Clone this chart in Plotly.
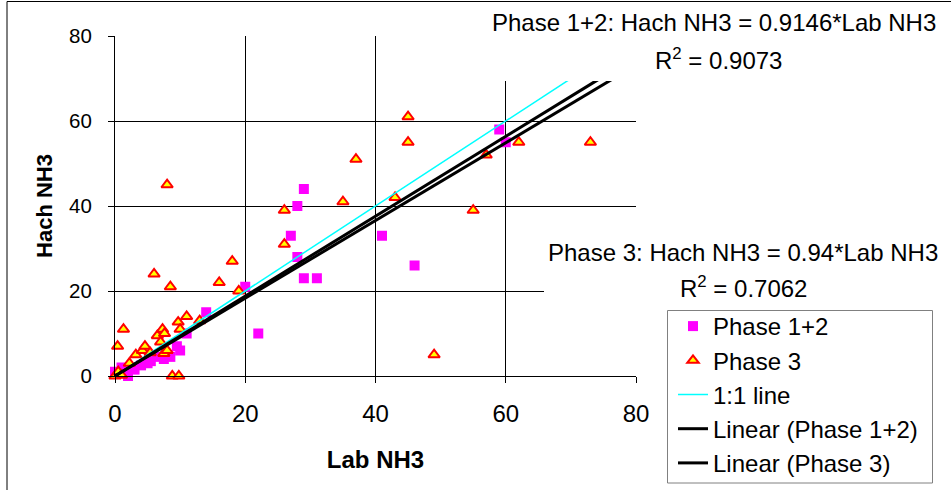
import plotly.graph_objects as go

# ---------------- data ----------------
p12_lab = [0, 1, 2, 2, 3, 4, 5, 5.5, 6.5, 7.5, 8.5, 9.5, 10, 11, 14, 20, 22,
           27, 28, 28, 29, 29, 31, 41, 46, 59, 60]
p12_hach = [1, 2, 1, 0, 1.5, 2.5, 3, 3.5, 4.5, 4, 4.5, 7, 6, 10, 15, 21, 10,
            33, 28, 40, 44, 23, 23, 33, 26, 58, 55]

p3_lab = [0, 0.5, 1, 0.4, 1.3, 2.2, 3.2, 4.2, 4.6, 5.4, 6.5, 7, 7.3, 7.6, 7.5,
          8, 9.7, 10, 11, 13, 8.8, 9.8, 6, 8, 8.5, 16, 18, 19, 26, 26, 35, 37,
          43, 45, 45, 49, 55, 57, 62, 73]
p3_hach = [0, 1, 0.2, 7, 11, 3, 5, 6, 7, 5.5, 9.5, 8, 11, 10, 5.3,
           6, 12.7, 11, 14, 13, 0, 0, 24, 45, 21, 22, 27, 20, 31, 39, 41, 51,
           42, 55, 61, 5, 39, 52, 55, 55]

one_to_one_x = [0, 80]
one_to_one_y = [0, 80]

slope_p12 = 0.9146
r2_p12 = 0.9073
slope_p3 = 0.94
r2_p3 = 0.7062
trend_x = [0, 80]

tick_vals = [0, 20, 40, 60, 80]
x_title = "Lab NH3"
y_title = "Hach NH3"

# ---------------- layout helpers ----------------
L, R, T, B = 115, 315, 36, 114
W, H = 951, 490
PW, PH = W - L - R, H - T - B


def px_x(px):
    return (px - L) / PW


def px_y(py):
    return (H - B - py) / PH


FONT = "Liberation Sans, Arial, sans-serif"

fig = go.Figure()
fig.add_trace(go.Scatter(
    x=p12_lab, y=p12_hach, mode="markers", name="Phase 1+2",
    marker=dict(symbol="square", size=10, color="#FF00FF"),
    cliponaxis=False))
fig.add_trace(go.Scatter(
    x=p3_lab, y=p3_hach, mode="markers", name="Phase 3",
    marker=dict(symbol="triangle-up", size=10, color="#FFFF00",
                line=dict(color="#FF0000", width=2)),
    cliponaxis=False))
fig.add_trace(go.Scatter(
    x=one_to_one_x, y=one_to_one_y, mode="lines", name="1:1 line",
    line=dict(color="#00FFFF", width=1.5)))
fig.add_trace(go.Scatter(
    x=trend_x, y=[slope_p12 * v for v in trend_x], mode="lines",
    name="Linear (Phase 1+2)", line=dict(color="black", width=3)))
fig.add_trace(go.Scatter(
    x=trend_x, y=[slope_p3 * v for v in trend_x], mode="lines",
    name="Linear (Phase 3)", line=dict(color="black", width=3)))

axis_common = dict(
    range=[0, 80], tickvals=tick_vals, showgrid=True, gridcolor="black",
    gridwidth=1, showline=True, linecolor="black", linewidth=1,
    ticks="outside", ticklen=6, tickcolor="black", zeroline=False,
    automargin=False,
)
fig.update_xaxes(**axis_common, tickfont=dict(size=24),
                 ticklabelstandoff=10,
                 title=dict(text=x_title, font=dict(size=24, weight="bold"),
                            standoff=25))
fig.update_yaxes(**axis_common, tickfont=dict(size=20.5),
                 ticklabelstandoff=12,
                 title=dict(text=y_title, font=dict(size=22, weight="bold"),
                            standoff=10))

shapes = [
    # chart area border
    dict(type="rect", xref="paper", yref="paper", x0=px_x(7), x1=px_x(1100),
         y0=px_y(600), y1=px_y(1.5), line=dict(color="black", width=1),
         fillcolor="rgba(0,0,0,0)", layer="above"),
    # white boxes behind the equation labels
    dict(type="rect", xref="paper", yref="paper", x0=px_x(487), x1=px_x(1000),
         y0=px_y(81), y1=px_y(3.5), line=dict(width=0), fillcolor="white",
         layer="above"),
    dict(type="rect", xref="paper", yref="paper", x0=px_x(544), x1=px_x(1000),
         y0=px_y(307), y1=px_y(231), line=dict(width=0), fillcolor="white",
         layer="above"),
    # legend frame
    dict(type="rect", xref="paper", yref="paper", x0=px_x(667.5), x1=px_x(932.5),
         y0=px_y(483), y1=px_y(310.5), line=dict(color="#808080", width=1),
         fillcolor="white", layer="above"),
]

annotations = [
    dict(text=f"Phase 1+2: Hach NH3 = {slope_p12}*Lab NH3", x=px_x(714),
         y=px_y(23)),
    dict(text=f"R<sup>2</sup> = {r2_p12}", x=px_x(718), y=px_y(59)),
    dict(text=f"Phase 3: Hach NH3 = {slope_p3}*Lab NH3", x=px_x(743),
         y=px_y(252)),
    dict(text=f"R<sup>2</sup> = {r2_p3}", x=px_x(743), y=px_y(287)),
]
for a in annotations:
    a.update(xref="paper", yref="paper", xanchor="center", yanchor="middle",
             showarrow=False, font=dict(size=24, color="black"))

fig.update_layout(
    width=W, height=H, margin=dict(l=L, r=R, t=T, b=B, autoexpand=False),
    paper_bgcolor="white", plot_bgcolor="white",
    font=dict(family=FONT, color="black", size=24),
    showlegend=True,
    legend=dict(x=px_x(673), y=px_y(304), xanchor="left", yanchor="top",
                borderwidth=0, bgcolor="rgba(255,255,255,0)",
                font=dict(size=24), itemwidth=30),
    shapes=shapes, annotations=annotations,
)

fig.write_html(
    "out.html",
    config={"displayModeBar": False},
    post_script="document.body.style.margin='0';"
                "document.body.style.overflow='hidden';",
)
